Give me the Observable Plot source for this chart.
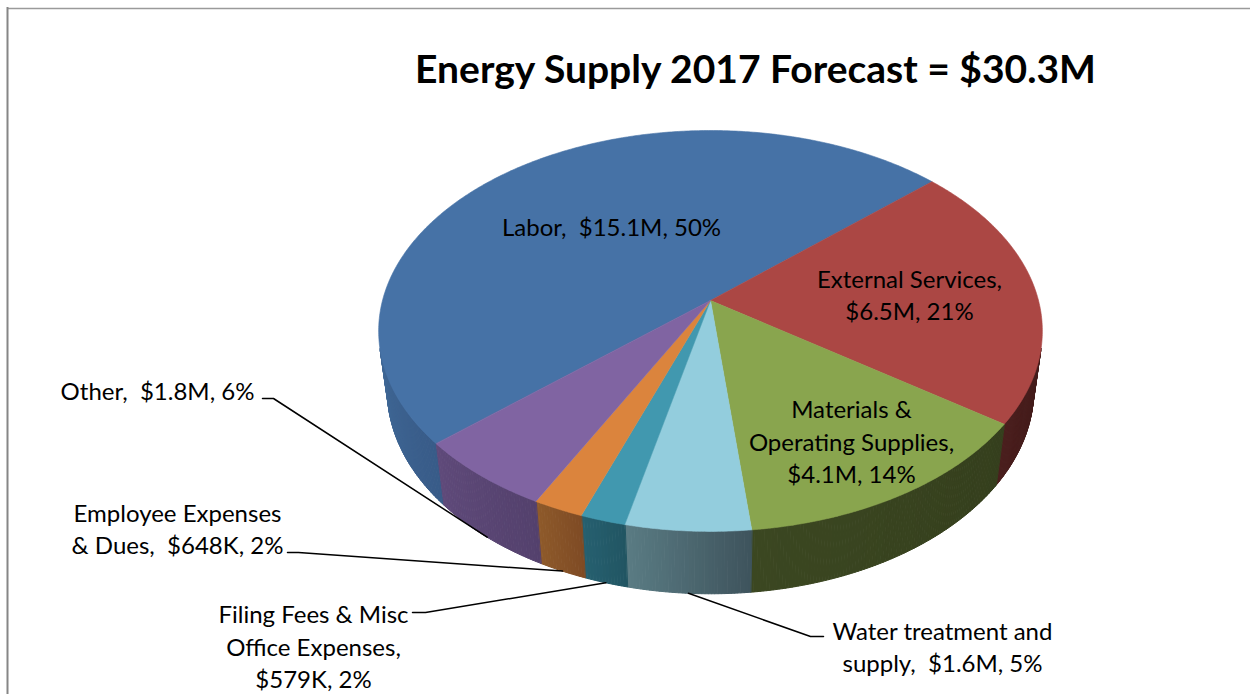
<!DOCTYPE html>
<html><head><meta charset="utf-8">
<script src="https://cdn.jsdelivr.net/npm/d3@7"></script>
<script src="https://cdn.jsdelivr.net/npm/@observablehq/plot@0.6"></script>
<style>body{margin:0;background:#fff;overflow:hidden}</style>
</head><body><div id="chart"></div>
<script>
// ---- data ----
const title = "Energy Supply 2017 Forecast = $30.3M";
const categories = ["Labor", "External Services", "Materials & Operating Supplies", "Water treatment and supply",
  "Filing Fees & Misc Office Expenses", "Employee Expenses & Dues", "Other"];
const values = [15.1, 6.5, 4.1, 1.6, 0.579, 0.648, 1.8]; // $M
const labels = ["Labor,  $15.1M, 50%", "External Services,\n$6.5M, 21%", "Materials &\nOperating Supplies,\n$4.1M, 14%",
  "Water treatment and\nsupply,  $1.6M, 5%", "Filing Fees & Misc\nOffice Expenses,\n$579K, 2%",
  "Employee Expenses\n& Dues,  $648K, 2%", "Other,  $1.8M, 6%"];

// ---- styles ----
const topColors = ["#4672a6", "#ab4744", "#89a54e", "#93cddd", "#4198af", "#db843d", "#8064a2"];
const wallColors = [["#3f6795", "#385b88"], ["#4a1e1d", "#421b1a"], ["#3b4721", "#353f1d"], ["#5a7c84", "#3e535c"],
  ["#266070", "#215562"], ["#8f5a2b", "#7e4b24"], ["#5f4a7a", "#54416d"]];

// ---- layout (chart units = pixels) ----
const CX = 710, CY = 300, A = 328, D = 5.28, E = Math.asin(0.597), H = 0.23, START = 228.8;
const labelPos = [[611, 225], [909, 293], [851, 440], [942, 645], [313, 645], [177, 527], [157, 389]];
const leaderEnds = [null, null, null, [[823, 636], [810, 636]], [[412, 612], [425, 612]], [[287, 552], [298, 552]], [[262, 398], [273, 398]]];

const rad = Math.PI / 180;
function project(th, r, Y) {
  const X = r * Math.sin(th * rad), Z = r * Math.cos(th * rad);
  const depth = D + Z * Math.cos(E) - Y * Math.sin(E);
  return [CX + A * D * X / depth, CY - A * D * (Y * Math.cos(E) + Z * Math.sin(E)) / depth];
}

const total = d3.sum(values);
let acc = START;
const slices = values.map((v, i) => {
  const a0 = acc, a1 = acc + v / total * 360;
  acc = a1;
  return {i, a0, a1, mid: (a0 + a1) / 2};
});

// walls (visible outer side)
const VIS0 = Math.acos(-1 / (D * Math.cos(E))) / rad, VIS1 = 360 - VIS0;
const wallRows = [];
let qid = 0;
for (const s of slices) {
  for (const off of [-360, 0, 360]) {
    const b0 = Math.max(s.a0 + off, VIS0), b1 = Math.min(s.a1 + off, VIS1);
    if (b1 <= b0) continue;
    const n = Math.max(1, Math.ceil((b1 - b0) / 0.5));
    const interp = d3.interpolateRgb(wallColors[s.i][0], wallColors[s.i][1]);
    for (let k = 0; k < n; k++) {
      const ta = b0 + k * (b1 - b0) / n, tb = b0 + (k + 1) * (b1 - b0) / n;
      const t = (b1 - (ta + tb) / 2) / (b1 - b0);
      const c = interp(t);
      const pts = [project(ta, 1, 0), project(tb, 1, 0), project(tb, 1, -H), project(ta, 1, -H)];
      for (const p of pts) wallRows.push({id: qid, x: p[0], y: p[1], c});
      qid++;
    }
  }
}

// top faces
const topRows = [];
for (const s of slices) {
  const c = topColors[s.i];
  const [x0, y0] = project(0, 0, 0);
  topRows.push({id: s.i, x: x0, y: y0, c});
  const n = Math.ceil((s.a1 - s.a0) / 0.5);
  for (let k = 0; k <= n; k++) {
    const p = project(s.a0 + k * (s.a1 - s.a0) / n, 1, 0);
    topRows.push({id: s.i, x: p[0], y: p[1], c});
  }
}

// leaders
const leaderRows = [];
slices.forEach(s => {
  const le = leaderEnds[s.i];
  if (!le) return;
  const anchor = project(s.mid, 1, -H);
  for (const p of [le[0], le[1], anchor]) leaderRows.push({id: s.i, x: p[0], y: p[1]});
});

const labelRows = slices.map(s => ({text: labels[s.i], x: labelPos[s.i][0], y: labelPos[s.i][1]}));

const chart = Plot.plot({
  width: 1250, height: 694, margin: 0,
  x: {domain: [0, 1250], range: [0, 1250], axis: null},
  y: {domain: [0, 694], range: [0, 694], axis: null},
  color: {type: "identity"},
  style: {background: "#fff"},
  marks: [
    Plot.ruleY([8], {x1: 7, x2: 1250, stroke: "#9a9a9a", strokeWidth: 1.5}),
    Plot.ruleX([7], {y1: 7, y2: 694, stroke: "#868686", strokeWidth: 2}),
    Plot.line(wallRows, {x: "x", y: "y", z: "id", fill: "c", stroke: "c", strokeWidth: 1, curve: "linear-closed"}),
    Plot.line(topRows, {x: "x", y: "y", z: "id", fill: "c", stroke: "c", strokeWidth: 0.6, curve: "linear-closed"}),
    Plot.line(leaderRows, {x: "x", y: "y", z: "id", stroke: "#000", strokeWidth: 1.5}),
    Plot.text(labelRows, {x: "x", y: "y", text: "text", fontSize: 24, fontFamily: "Lato", lineHeight: 1.354, fill: "#000"}),
    Plot.text([title], {x: 755, y: 70, text: d => d, fontSize: 39, fontWeight: "bold", fontFamily: "Lato", fill: "#000"})
  ]
});
document.getElementById("chart").appendChild(chart);
</script>
</body></html>
